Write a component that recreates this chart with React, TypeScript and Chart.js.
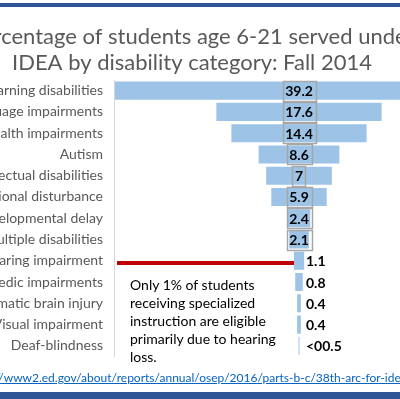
import React, { useEffect, useRef } from "react";
import { Chart, registerables } from "chart.js";

Chart.register(...registerables);

const categories = [
  "Specific learning disabilities",
  "Speech or language impairments",
  "Other health impairments",
  "Autism",
  "Intellectual disabilities",
  "Emotional disturbance",
  "Developmental delay",
  "Multiple disabilities",
  "Hearing impairment",
  "Orthopedic impairments",
  "Traumatic brain injury",
  "Visual impairment",
  "Deaf-blindness",
];
const percentages = [39.2, 17.6, 14.4, 8.6, 7, 5.9, 2.4, 2.1, 1.1, 0.8, 0.4, 0.4, 0.1];
const valueLabels = ["39.2", "17.6", "14.4", "8.6", "7", "5.9", "2.4", "2.1", "1.1", "0.8", "0.4", "0.4", "<00.5"];
const titleLines = ["Percentage of students age 6-21 served under", "IDEA by disability category: Fall 2014"];
const noteLines = ["Only 1% of students", "receiving specialized", "instruction are eligible", "primarily due to hearing", "loss."];
const sourceUrl = "http://www2.ed.gov/about/reports/annual/osep/2016/parts-b-c/38th-arc-for-idea.pdf";

const FUNNEL_CENTER = 19.7;
const AXIS_MAX = 39.4;
const BOXED_MIN = 2;

const FONT = "Lato, 'Noto Sans', sans-serif";

const valueLabelPlugin = {
  id: "valueLabels",
  afterDatasetsDraw(chart: any) {
    const ctx = chart.ctx;
    const meta = chart.getDatasetMeta(0);
    ctx.save();
    ctx.font = `bold 14px ${FONT}`;
    ctx.fillStyle = "#000000";
    ctx.textBaseline = "middle";
    meta.data.forEach((el: any, i: number) => {
      const cx = (el.x + el.base) / 2;
      const y = el.y;
      const txt = valueLabels[i];
      if (percentages[i] >= BOXED_MIN) {
        const w = ctx.measureText(txt).width;
        ctx.strokeStyle = "#A6A6A6";
        ctx.lineWidth = 1.5;
        ctx.strokeRect(Math.round(cx - w / 2 - 2.5) + 0.5, Math.round(y - 10) + 0.5, Math.round(w + 5), 20);
        ctx.textAlign = "center";
        ctx.fillText(txt, cx, y + 1);
      } else {
        ctx.textAlign = "left";
        ctx.fillText(txt, cx + 7, y + 1);
      }
    });
    ctx.restore();
  },
};

function FunnelChart() {
  const ref = useRef<HTMLCanvasElement | null>(null);
  useEffect(() => {
    if (!ref.current) return;
    const chart = new Chart(ref.current, {
      type: "bar",
      data: {
        labels: categories,
        datasets: [
          {
            data: percentages.map((v) => [FUNNEL_CENTER - v / 2, FUNNEL_CENTER + v / 2]) as any,
            backgroundColor: "#9DC3E6",
            borderWidth: 0,
            categoryPercentage: 1,
            barPercentage: 0.85,
          },
        ],
      },
      options: {
        indexAxis: "y",
        animation: false,
        responsive: false,
        devicePixelRatio: 1,
        layout: { padding: { left: 0, right: 6, top: 0, bottom: 42.5 } },
        plugins: {
          legend: { display: false },
          tooltip: { enabled: false },
          title: {
            display: true,
            text: titleLines,
            color: "#595959",
            font: { family: FONT, size: 22, weight: "normal", lineHeight: 1.15 },
            padding: { top: 24.5, bottom: 4.9 },
          },
        },
        scales: {
          x: { type: "linear", min: 0, max: AXIS_MAX, display: false },
          y: {
            grid: { display: false, drawTicks: false },
            border: { display: true, color: "#D9D9D9", width: 1 },
            ticks: {
              color: "#595959",
              font: { family: FONT, size: 14 },
              padding: 11,
              autoSkip: false,
            },
            afterFit(scale: any) {
              scale.width = 214;
            },
          },
        },
      },
      plugins: [valueLabelPlugin],
    } as any);
    return () => chart.destroy();
  }, []);
  return (
    <canvas
      ref={ref}
      width={590}
      height={399}
      style={{ position: "absolute", left: -100, top: 0, width: 590, height: 399 }}
    />
  );
}

export default function App() {
  return (
    <div
      style={{
        position: "fixed",
        left: 0,
        top: 0,
        width: 400,
        height: 399,
        overflow: "hidden",
        background: "#ffffff",
        fontFamily: FONT,
      }}
    >
      <div style={{ position: "absolute", left: 0, top: 3, width: 400, height: 4, background: "#2F5597" }} />
      <FunnelChart />
      <div style={{ position: "absolute", left: 117, top: 261, width: 177, height: 4, background: "#C00000" }} />
      <div
        style={{
          position: "absolute",
          left: 130,
          top: 276,
          fontSize: 14,
          lineHeight: "18px",
          color: "#000000",
          whiteSpace: "nowrap",
        }}
      >
        {noteLines.map((l, i) => (
          <div key={i}>{l}</div>
        ))}
      </div>
      <div
        style={{
          position: "absolute",
          left: -29,
          top: 369,
          fontSize: 12,
          lineHeight: "18px",
          color: "#0563C1",
          textDecoration: "underline",
          whiteSpace: "nowrap",
        }}
      >
        {sourceUrl}
      </div>
      <div style={{ position: "absolute", left: 0, top: 392, width: 400, height: 7, background: "#2F5597" }} />
    </div>
  );
}
